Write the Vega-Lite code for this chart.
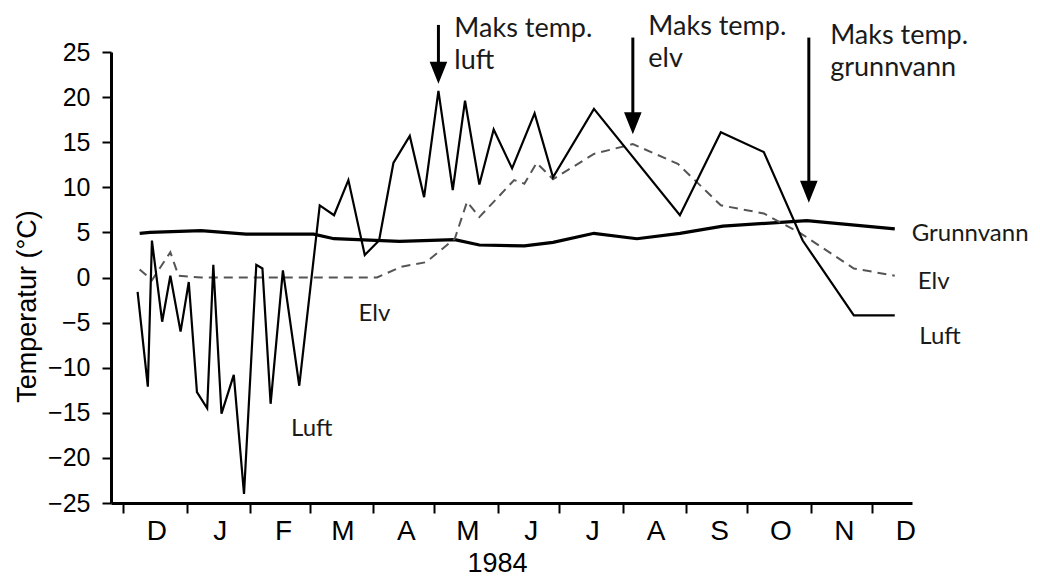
{
  "$schema": "https://vega.github.io/schema/vega-lite/v6.json",
  "width": 801,
  "height": 451,
  "autosize": {"type": "none"},
  "padding": {"left": 111, "top": 52, "right": 128, "bottom": 76},
  "background": "white",
  "config": {"view": {"stroke": null}, "axis": {"grid": false}},
  "datasets": {
    "temps": [
      {"series": "Luft", "date": "1983-12-08", "temp": -1.6},
      {"series": "Luft", "date": "1983-12-13", "temp": -12.1},
      {"series": "Luft", "date": "1983-12-15", "temp": 4.1},
      {"series": "Luft", "date": "1983-12-20", "temp": -4.9},
      {"series": "Luft", "date": "1983-12-24", "temp": 0.2},
      {"series": "Luft", "date": "1983-12-29", "temp": -6.0},
      {"series": "Luft", "date": "1984-01-02", "temp": -0.5},
      {"series": "Luft", "date": "1984-01-06", "temp": -12.7},
      {"series": "Luft", "date": "1984-01-11", "temp": -14.5},
      {"series": "Luft", "date": "1984-01-14", "temp": 1.4},
      {"series": "Luft", "date": "1984-01-18", "temp": -15.1},
      {"series": "Luft", "date": "1984-01-24", "temp": -10.8},
      {"series": "Luft", "date": "1984-01-29", "temp": -24.0},
      {"series": "Luft", "date": "1984-02-04", "temp": 1.4},
      {"series": "Luft", "date": "1984-02-07", "temp": 1.0},
      {"series": "Luft", "date": "1984-02-11", "temp": -14.0},
      {"series": "Luft", "date": "1984-02-17", "temp": 0.8},
      {"series": "Luft", "date": "1984-02-25", "temp": -12.0},
      {"series": "Luft", "date": "1984-03-06", "temp": 8.0},
      {"series": "Luft", "date": "1984-03-13", "temp": 6.9},
      {"series": "Luft", "date": "1984-03-20", "temp": 10.8},
      {"series": "Luft", "date": "1984-03-28", "temp": 2.5},
      {"series": "Luft", "date": "1984-04-04", "temp": 4.1},
      {"series": "Luft", "date": "1984-04-11", "temp": 12.7},
      {"series": "Luft", "date": "1984-04-19", "temp": 15.7},
      {"series": "Luft", "date": "1984-04-26", "temp": 8.9},
      {"series": "Luft", "date": "1984-05-03", "temp": 20.7},
      {"series": "Luft", "date": "1984-05-10", "temp": 9.7},
      {"series": "Luft", "date": "1984-05-16", "temp": 19.6},
      {"series": "Luft", "date": "1984-05-23", "temp": 10.3},
      {"series": "Luft", "date": "1984-05-30", "temp": 16.4},
      {"series": "Luft", "date": "1984-06-08", "temp": 12.1},
      {"series": "Luft", "date": "1984-06-19", "temp": 18.2},
      {"series": "Luft", "date": "1984-06-28", "temp": 11.1},
      {"series": "Luft", "date": "1984-07-18", "temp": 18.7},
      {"series": "Luft", "date": "1984-08-29", "temp": 6.9},
      {"series": "Luft", "date": "1984-09-18", "temp": 16.1},
      {"series": "Luft", "date": "1984-10-09", "temp": 13.9},
      {"series": "Luft", "date": "1984-10-28", "temp": 4.1},
      {"series": "Luft", "date": "1984-11-22", "temp": -4.2},
      {"series": "Luft", "date": "1984-12-12", "temp": -4.2},
      {"series": "Elv", "date": "1983-12-09", "temp": 0.9},
      {"series": "Elv", "date": "1983-12-15", "temp": -0.3},
      {"series": "Elv", "date": "1983-12-24", "temp": 2.8},
      {"series": "Elv", "date": "1983-12-28", "temp": 0.2},
      {"series": "Elv", "date": "1984-01-08", "temp": 0.0},
      {"series": "Elv", "date": "1984-02-26", "temp": 0.0},
      {"series": "Elv", "date": "1984-04-03", "temp": 0.0},
      {"series": "Elv", "date": "1984-04-15", "temp": 1.2},
      {"series": "Elv", "date": "1984-04-27", "temp": 1.7},
      {"series": "Elv", "date": "1984-05-11", "temp": 4.3},
      {"series": "Elv", "date": "1984-05-17", "temp": 8.4},
      {"series": "Elv", "date": "1984-05-23", "temp": 6.7},
      {"series": "Elv", "date": "1984-06-09", "temp": 10.8},
      {"series": "Elv", "date": "1984-06-14", "temp": 10.4},
      {"series": "Elv", "date": "1984-06-20", "temp": 12.7},
      {"series": "Elv", "date": "1984-06-28", "temp": 10.9},
      {"series": "Elv", "date": "1984-07-18", "temp": 13.7},
      {"series": "Elv", "date": "1984-08-06", "temp": 14.8},
      {"series": "Elv", "date": "1984-08-28", "temp": 12.6},
      {"series": "Elv", "date": "1984-09-18", "temp": 8.0},
      {"series": "Elv", "date": "1984-10-09", "temp": 7.1},
      {"series": "Elv", "date": "1984-10-27", "temp": 4.9},
      {"series": "Elv", "date": "1984-11-22", "temp": 1.0},
      {"series": "Elv", "date": "1984-12-12", "temp": 0.2},
      {"series": "Grunnvann", "date": "1983-12-09", "temp": 4.9},
      {"series": "Grunnvann", "date": "1983-12-14", "temp": 5.0},
      {"series": "Grunnvann", "date": "1984-01-08", "temp": 5.2},
      {"series": "Grunnvann", "date": "1984-01-30", "temp": 4.8},
      {"series": "Grunnvann", "date": "1984-03-03", "temp": 4.8},
      {"series": "Grunnvann", "date": "1984-03-13", "temp": 4.3},
      {"series": "Grunnvann", "date": "1984-04-14", "temp": 4.0},
      {"series": "Grunnvann", "date": "1984-05-11", "temp": 4.2},
      {"series": "Grunnvann", "date": "1984-05-23", "temp": 3.6},
      {"series": "Grunnvann", "date": "1984-06-14", "temp": 3.5},
      {"series": "Grunnvann", "date": "1984-06-28", "temp": 3.9},
      {"series": "Grunnvann", "date": "1984-07-18", "temp": 4.9},
      {"series": "Grunnvann", "date": "1984-08-08", "temp": 4.3},
      {"series": "Grunnvann", "date": "1984-08-29", "temp": 4.9},
      {"series": "Grunnvann", "date": "1984-09-19", "temp": 5.7},
      {"series": "Grunnvann", "date": "1984-10-30", "temp": 6.3},
      {"series": "Grunnvann", "date": "1984-12-12", "temp": 5.4}
    ],
    "arrows": [
      {"target": "luft", "date": "1984-05-03", "temp": 28.0, "head": 22.7},
      {"target": "elv", "date": "1984-08-06", "temp": 26.6, "head": 17.1},
      {"target": "grunnvann", "date": "1984-10-31", "temp": 26.6, "head": 9.5}
    ],
    "notes": [
      {"text": "Maks temp.\nluft", "date": "1984-05-10T19:00:00Z", "temp": 26.66},
      {"text": "Maks temp.\nelv", "date": "1984-08-13T14:00:00Z", "temp": 26.85},
      {"text": "Maks temp.\ngrunnvann", "date": "1984-11-10T10:00:00Z", "temp": 25.85}
    ],
    "labels": [
      {"text": "Grunnvann", "date": "1984-12-20T07:00:00Z", "temp": 4.05},
      {"text": "Elv", "date": "1984-12-23T05:00:00Z", "temp": -1.23},
      {"text": "Luft", "date": "1984-12-24T00:00:00Z", "temp": -7.33},
      {"text": "Elv", "date": "1984-03-25", "temp": -4.82},
      {"text": "Luft", "date": "1984-02-21", "temp": -17.6}
    ]
  },
  "encoding": {
    "x": {
      "field": "date",
      "type": "temporal",
      "scale": {
        "type": "utc",
        "domain": [
          {"year": 1983, "month": 11, "date": 25, "utc": true},
          {"year": 1984, "month": 12, "date": 20, "hours": 10, "utc": true}
        ]
      },
      "axis": {
        "values": [
          {"year": 1983, "month": 12, "date": 1, "utc": true},
          {"year": 1984, "month": 1, "date": 1, "utc": true},
          {"year": 1984, "month": 2, "date": 1, "utc": true},
          {"year": 1984, "month": 3, "date": 1, "utc": true},
          {"year": 1984, "month": 4, "date": 1, "utc": true},
          {"year": 1984, "month": 5, "date": 1, "utc": true},
          {"year": 1984, "month": 6, "date": 1, "utc": true},
          {"year": 1984, "month": 7, "date": 1, "utc": true},
          {"year": 1984, "month": 8, "date": 1, "utc": true},
          {"year": 1984, "month": 9, "date": 1, "utc": true},
          {"year": 1984, "month": 10, "date": 1, "utc": true},
          {"year": 1984, "month": 11, "date": 1, "utc": true},
          {"year": 1984, "month": 12, "date": 1, "utc": true}
        ],
        "labelExpr": "slice(utcFormat(datum.value, '%b'), 0, 1)",
        "labelOffset": 33,
        "labelFlush": false,
        "labelOverlap": false,
        "labelFont": "Liberation Sans, Arial",
        "labelFontSize": 28,
        "labelColor": "black",
        "labelBaseline": "top",
        "labelPadding": 4,
        "tickSize": 10,
        "tickWidth": 2,
        "tickColor": "black",
        "domainColor": "black",
        "domainWidth": 3,
        "title": "1984",
        "titleFont": "Liberation Sans, Arial",
        "titleFontSize": 27,
        "titleFontWeight": "normal",
        "titleColor": "black",
        "titleAlign": "center",
        "titleBaseline": "alphabetic",
        "titleX": 386,
        "titleY": 68
      }
    },
    "y": {
      "field": "temp",
      "type": "quantitative",
      "scale": {"domain": [-25, 25], "nice": false, "zero": false},
      "axis": {
        "values": [-25, -20, -15, -10, -5, 0, 5, 10, 15, 20, 25],
        "labelFont": "Liberation Sans, Arial",
        "labelFontSize": 25,
        "labelColor": "black",
        "labelPadding": 12,
        "tickSize": 9,
        "tickWidth": 2,
        "tickColor": "black",
        "domainColor": "black",
        "domainWidth": 3,
        "title": "Temperatur  (°C)",
        "titleFont": "Liberation Sans, Arial",
        "titleFontSize": 27,
        "titleFontWeight": "normal",
        "titleColor": "black",
        "titleAngle": 270,
        "titleAlign": "center",
        "titleBaseline": "alphabetic",
        "titleX": -76,
        "titleY": 254
      }
    }
  },
  "layer": [
    {
      "data": {"name": "temps"},
      "transform": [{"filter": "datum.series === 'Grunnvann'"}],
      "mark": {"type": "line", "color": "black", "strokeWidth": 3.2}
    },
    {
      "data": {"name": "temps"},
      "transform": [{"filter": "datum.series === 'Elv'"}],
      "mark": {"type": "line", "color": "#555555", "strokeWidth": 2, "strokeDash": [9, 6]}
    },
    {
      "data": {"name": "temps"},
      "transform": [{"filter": "datum.series === 'Luft'"}],
      "mark": {"type": "line", "color": "black", "strokeWidth": 2.2}
    },
    {
      "data": {"name": "arrows"},
      "mark": {"type": "rule", "color": "black", "strokeWidth": 3},
      "encoding": {"y2": {"field": "head"}}
    },
    {
      "data": {"name": "arrows"},
      "mark": {"type": "point", "shape": "M-0.8,-1L0.8,-1L0,1Z", "size": 484, "filled": true, "color": "black", "opacity": 1},
      "encoding": {"y": {"field": "head", "type": "quantitative"}}
    },
    {
      "data": {"name": "notes"},
      "mark": {"type": "text", "align": "left", "baseline": "alphabetic", "font": "Lato", "fontSize": 27, "lineBreak": "\n", "lineHeight": 32, "color": "#1a1a1a"},
      "encoding": {"text": {"field": "text", "type": "nominal"}}
    },
    {
      "data": {"name": "labels"},
      "mark": {"type": "text", "align": "left", "baseline": "alphabetic", "font": "Lato", "fontSize": 24, "color": "#1a1a1a"},
      "encoding": {"text": {"field": "text", "type": "nominal"}}
    }
  ]
}
